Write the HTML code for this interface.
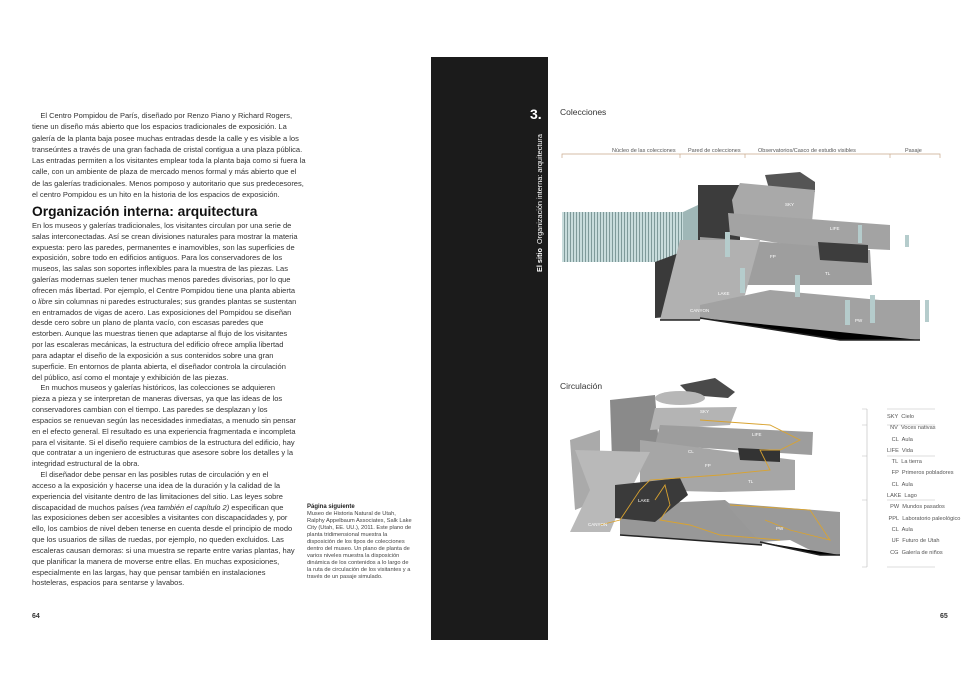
<!DOCTYPE html>
<html><head><meta charset="utf-8"><style>
body{margin:0;width:980px;height:700px;background:#fff;position:relative;overflow:hidden;font-family:"Liberation Sans",sans-serif;color:#333}
.t{position:absolute;left:32px;font-size:7.5px;line-height:11.3px;white-space:nowrap}
h2{position:absolute;left:32px;top:204px;margin:0;font-size:13.8px;font-weight:bold;color:#111;white-space:nowrap}
.cap{position:absolute;left:307px;top:504px;font-size:5.7px;line-height:6.95px;white-space:nowrap;color:#444}
.band{position:absolute;left:431px;top:57px;width:117px;height:583px;background:#1b1b1b}
.lg{position:absolute;font-size:5.6px;color:#555;white-space:nowrap}
</style></head><body>
<div class="t" style="top:110px">&nbsp;&nbsp;&nbsp;&nbsp;El Centro Pompidou de París, diseñado por Renzo Piano y Richard Rogers,<br>tiene un diseño más abierto que los espacios tradicionales de exposición. La<br>galería de la planta baja posee muchas entradas desde la calle y es visible a los<br>transeúntes a través de una gran fachada de cristal contigua a una plaza pública.<br>Las entradas permiten a los visitantes emplear toda la planta baja como si fuera la<br>calle, con un ambiente de plaza de mercado menos formal y más abierto que el<br>de las galerías tradicionales. Menos pomposo y autoritario que sus predecesores,<br>el centro Pompidou es un hito en la historia de los espacios de exposición.</div>
<h2>Organización interna: arquitectura</h2>
<div class="t" style="top:221px;line-height:10.83px">En los museos y galerías tradicionales, los visitantes circulan por una serie de<br>salas interconectadas. Así se crean divisiones naturales para mostrar la materia<br>expuesta: pero las paredes, permanentes e inamovibles, son las superficies de<br>exposición, sobre todo en edificios antiguos. Para los conservadores de los<br>museos, las salas son soportes inflexibles para la muestra de las piezas. Las<br>galerías modernas suelen tener muchas menos paredes divisorias, por lo que<br>ofrecen más libertad. Por ejemplo, el Centre Pompidou tiene una planta abierta<br>o <i>libre</i> sin columnas ni paredes estructurales; sus grandes plantas se sustentan<br>en entramados de vigas de acero. Las exposiciones del Pompidou se diseñan<br>desde cero sobre un plano de planta vacío, con escasas paredes que<br>estorben. Aunque las muestras tienen que adaptarse al flujo de los visitantes<br>por las escaleras mecánicas, la estructura del edificio ofrece amplia libertad<br>para adaptar el diseño de la exposición a sus contenidos sobre una gran<br>superficie. En entornos de planta abierta, el diseñador controla la circulación<br>del público, así como el montaje y exhibición de las piezas.<br>&nbsp;&nbsp;&nbsp;&nbsp;En muchos museos y galerías históricos, las colecciones se adquieren<br>pieza a pieza y se interpretan de maneras diversas, ya que las ideas de los<br>conservadores cambian con el tiempo. Las paredes se desplazan y los<br>espacios se renuevan según las necesidades inmediatas, a menudo sin pensar<br>en el efecto general. El resultado es una experiencia fragmentada e incompleta<br>para el visitante. Si el diseño requiere cambios de la estructura del edificio, hay<br>que contratar a un ingeniero de estructuras que asesore sobre los detalles y la<br>integridad estructural de la obra.<br>&nbsp;&nbsp;&nbsp;&nbsp;El diseñador debe pensar en las posibles rutas de circulación y en el<br>acceso a la exposición y hacerse una idea de la duración y la calidad de la<br>experiencia del visitante dentro de las limitaciones del sitio. Las leyes sobre<br>discapacidad de muchos países <i>(vea también el capítulo 2)</i> especifican que<br>las exposiciones deben ser accesibles a visitantes con discapacidades y, por<br>ello, los cambios de nivel deben tenerse en cuenta desde el principio de modo<br>que los usuarios de sillas de ruedas, por ejemplo, no queden excluidos. Las<br>escaleras causan demoras: si una muestra se reparte entre varias plantas, hay<br>que planificar la manera de moverse entre ellas. En muchas exposiciones,<br>especialmente en las largas, hay que pensar también en instalaciones<br>hosteleras, espacios para sentarse y lavabos.</div>
<div class="cap"><b style="font-size:6px;color:#222">Página siguiente</b><br>Museo de Historia Natural de Utah,<br>Ralphy Appelbaum Associates, Salk Lake<br>City (Utah, EE. UU.), 2011. Este plano de<br>planta tridimensional muestra la<br>disposición de los tipos de colecciones<br>dentro del museo. Un plano de planta de<br>varios niveles muestra la disposición<br>dinámica de los contenidos a lo largo de<br>la ruta de circulación de los visitantes y a<br>través de un pasaje simulado.</div>
<div style="position:absolute;left:32px;top:613px;font-size:7px;font-weight:bold">64</div>
<div style="position:absolute;left:940px;top:613px;font-size:7px;font-weight:bold">65</div>
<div class="band"></div>
<div style="position:absolute;left:530px;top:106px;color:#fff;font-size:14px;font-weight:bold">3.</div>
<div style="position:absolute;left:535px;top:272px;transform:rotate(-90deg);transform-origin:0 0;color:#fff;font-size:7.3px;white-space:nowrap"><b>El sitio</b>&nbsp;&nbsp;Organización interna: arquitectura</div>
<div style="position:absolute;left:560px;top:107px;font-size:8.5px;color:#333">Colecciones</div>
<div style="position:absolute;left:560px;top:381px;font-size:8.5px;color:#333">Circulación</div>
<svg style="position:absolute;left:0;top:0" width="980" height="700">
<defs><pattern id="gl" width="3" height="10" patternUnits="userSpaceOnUse"><rect width="3" height="10" fill="#c8dcdc"/><rect width="1" height="10" fill="#7f9a9a"/></pattern></defs>
<g stroke="#c9a98a" stroke-width="0.7" fill="none">
<path d="M562 158V154H940V158M680 154V158M745 154V158M890 154V158"/>
</g>
<g font-size="5.5" fill="#555" font-family="Liberation Sans,sans-serif">
<text x="612" y="152">Núcleo de las colecciones</text><text x="688" y="152">Pared de colecciones</text><text x="758" y="152">Observatorios/Casco de estudio visibles</text><text x="905" y="152">Pasaje</text>
</g>
<rect x="562" y="212" width="121" height="50" fill="url(#gl)"/>
<polygon points="683,212 698,205 698,260 683,265" fill="#9fb7b7"/>
<polygon points="655,262 700,245 700,300 678,316 655,318" fill="#3a3a3a"/>
<polygon points="698,185 740,185 740,253 698,253" fill="#3c3c3c"/>
<polygon points="765,175 800,172 815,182 815,192 770,192" fill="#555"/>
<polygon points="740,183 815,190 812,222 735,220 732,200" fill="#a9a9a9"/>
<polygon points="728,213 890,225 890,250 790,245 730,235" fill="#a3a3a3"/>
<polygon points="700,237 870,250 872,285 740,285 700,270" fill="#9e9e9e"/>
<polygon points="818,242 868,245 868,263 820,260" fill="#3d3d3d"/>
<polygon points="680,240 760,240 745,295 700,320 660,320" fill="#b1b1b1"/>
<polygon points="700,305 770,290 880,300 920,300 920,340 840,340 700,318" fill="#a2a2a2"/>
<path d="M660,320 700,320 M700,318 840,340 920,340" stroke="#222" stroke-width="1.5"/>
<g fill="#b5cccc"><rect x="725" y="232" width="5" height="25"/><rect x="740" y="268" width="5" height="25"/><rect x="795" y="275" width="5" height="22"/><rect x="845" y="300" width="5" height="25"/><rect x="870" y="295" width="5" height="28"/><rect x="858" y="225" width="4" height="18"/><rect x="905" y="235" width="4" height="12"/><rect x="925" y="300" width="4" height="22"/></g>
<g font-size="4.5" fill="#fff"><text x="785" y="206">SKY</text><text x="830" y="230">LIFE</text><text x="770" y="258">FP</text><text x="825" y="275">TL</text><text x="718" y="295">LAKE</text><text x="690" y="312">CANYON</text><text x="855" y="322">PW</text><text x="770" y="290">PPL</text></g>
<polygon points="680,385 715,378 735,392 728,398 690,395" fill="#4a4a4a"/>
<polygon points="610,400 655,395 660,460 612,460" fill="#8a8a8a"/>
<polygon points="570,440 600,430 600,500 575,510" fill="#aaa"/>
<ellipse cx="680" cy="398" rx="25" ry="7" fill="#b7b7b7"/>
<polygon points="655,408 737,407 730,425 650,430" fill="#b4b4b4"/>
<polygon points="660,425 813,432 812,455 655,445" fill="#9d9d9d"/>
<polygon points="640,440 795,460 795,490 720,492 640,490" fill="#a6a6a6"/>
<polygon points="738,448 780,450 780,462 740,460" fill="#333"/>
<polygon points="575,450 650,452 615,520 610,532 570,532 590,490" fill="#b9b9b9"/>
<polygon points="620,505 725,500 765,532 762,545 620,535" fill="#989898"/>
<polygon points="615,485 680,478 688,495 655,522 615,518" fill="#3a3a3a"/>
<polygon points="725,503 840,512 840,555 820,555 790,540 760,542" fill="#9a9a9a"/>
<path d="M620,535 762,545 M760,542 820,555 840,555" stroke="#222" stroke-width="1.5"/>
<g stroke="#d9a330" stroke-width="0.9" fill="none">
<path d="M700,420 770,425 800,440 780,450 760,450 770,470 720,475 650,480 640,490 620,520 600,525 M655,500 665,485 670,505 660,520 690,525 720,535 780,540 M730,505 810,510 830,540 790,530 765,520"/>
</g>
<g font-size="4.5" fill="#fff"><text x="700" y="413">SKY</text><text x="752" y="436">LIFE</text><text x="688" y="453">CL</text><text x="705" y="467">FP</text><text x="748" y="483">TL</text><text x="638" y="502">LAKE</text><text x="588" y="526">CANYON</text><text x="776" y="530">PW</text></g>
<g stroke="#bbb" stroke-width="0.6" fill="none">
<path d="M867 409V567M862 409H867M862 425H867M862 456H867M862 500H867M862 567H867"/>
<path d="M887 409H935M887 425H935M887 456H935M887 500H935M887 567H935"/>
</g>
</svg>
<div class="lg" style="left:887px;top:412px;line-height:11.3px">SKY&nbsp; Cielo<br>&nbsp;&nbsp;NV&nbsp; Voces nativas<br>&nbsp;&nbsp;&nbsp;CL&nbsp; Aula<br>LIFE&nbsp; Vida<br>&nbsp;&nbsp;&nbsp;TL&nbsp; La tierra<br>&nbsp;&nbsp;&nbsp;FP&nbsp; Primeros pobladores<br>&nbsp;&nbsp;&nbsp;CL&nbsp; Aula<br>LAKE&nbsp; Lago<br>&nbsp;&nbsp;PW&nbsp; Mundos pasados<br>&nbsp;PPL&nbsp; Laboratorio paleológico<br>&nbsp;&nbsp;&nbsp;CL&nbsp; Aula<br>&nbsp;&nbsp;&nbsp;UF&nbsp; Futuro de Utah<br>&nbsp;&nbsp;CG&nbsp; Galería de niños</div>
</body></html>
